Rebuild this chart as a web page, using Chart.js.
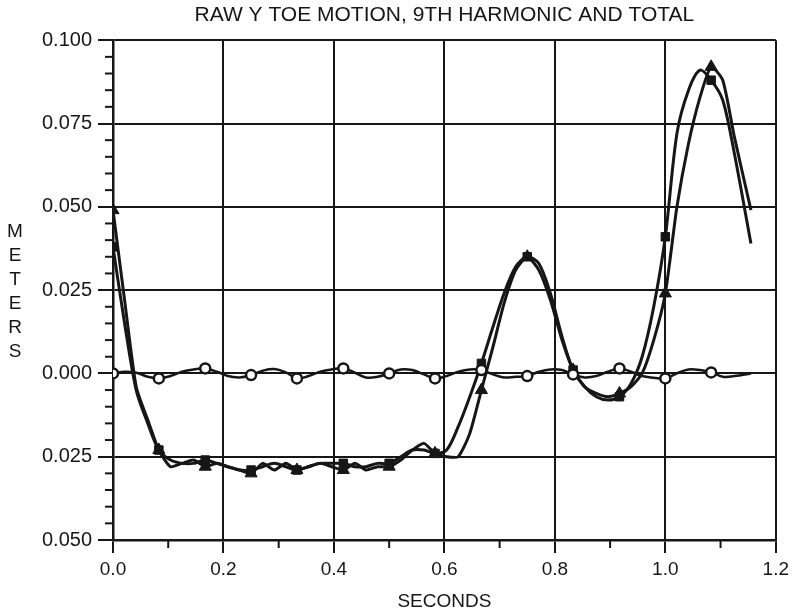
<!DOCTYPE html>
<html>
<head>
<meta charset="utf-8">
<script src="https://cdn.jsdelivr.net/npm/chart.js@4.4.1/dist/chart.umd.min.js"></script>
<style>
  html, body { margin: 0; padding: 0; background: #fff; }
  canvas { display: block; }
</style>
</head>
<body>
<canvas id="toe" width="794" height="613"></canvas>
<script>
// Tiempos de muestreo (s)
const times = [
  0.000, 0.021, 0.042, 0.063, 0.083, 0.104, 0.125, 0.146, 0.167, 0.188,
  0.208, 0.229, 0.250, 0.271, 0.292, 0.313, 0.333, 0.354, 0.375, 0.396,
  0.417, 0.438, 0.458, 0.479, 0.500, 0.521, 0.542, 0.563, 0.583, 0.604,
  0.625, 0.646, 0.667, 0.688, 0.708, 0.729, 0.750, 0.771, 0.792, 0.813,
  0.833, 0.854, 0.875, 0.896, 0.917, 0.938, 0.958, 0.979, 1.000, 1.021,
  1.042, 1.063, 1.083, 1.104, 1.125, 1.155
];

// Movimiento Y del dedo, datos crudos (triángulos)
const rawY = [
  0.049, 0.022, -0.004, -0.014, -0.023, -0.028, -0.027, -0.026, -0.028, -0.027,
  -0.028, -0.029, -0.030, -0.027, -0.029, -0.027, -0.029, -0.028, -0.027, -0.028,
  -0.029, -0.027, -0.029, -0.028, -0.028, -0.026, -0.023, -0.021, -0.024, -0.025,
  -0.025, -0.018, -0.005, 0.008, 0.021, 0.031, 0.035, 0.031, 0.022, 0.010,
  0.001, -0.004, -0.006, -0.007, -0.006, -0.004, 0.000, 0.010, 0.024, 0.050,
  0.069, 0.083, 0.092, 0.088, 0.071, 0.049
];

// Suma total de armónicos (cuadrados)
const totalY = [
  0.038, 0.015, -0.005, -0.015, -0.023, -0.026, -0.027, -0.027, -0.026, -0.027,
  -0.028, -0.029, -0.029, -0.028, -0.027, -0.028, -0.029, -0.028, -0.027, -0.027,
  -0.027, -0.028, -0.028, -0.027, -0.027, -0.025, -0.023, -0.023, -0.024, -0.023,
  -0.016, -0.007, 0.003, 0.014, 0.024, 0.032, 0.035, 0.033, 0.024, 0.011,
  0.001, -0.004, -0.007, -0.008, -0.007, -0.003, 0.005, 0.020, 0.041, 0.072,
  0.085, 0.091, 0.088, 0.082, 0.066, 0.039
];

// 9no armónico (círculos)
const harm9Y = [
  0.0000, 0.0005, 0.0002, -0.0010, -0.0015, -0.0008, 0.0005, 0.0012, 0.0015, 0.0005,
  -0.0008, -0.0012, -0.0005, 0.0008, 0.0013, 0.0003, -0.0015, -0.0008, 0.0005, 0.0012,
  0.0015, 0.0002, -0.0012, -0.0010, 0.0000, 0.0012, 0.0010, -0.0003, -0.0015, -0.0008,
  0.0005, 0.0012, 0.0010, -0.0003, -0.0012, -0.0010, -0.0008, 0.0005, 0.0012, 0.0010,
  -0.0003, -0.0012, -0.0008, 0.0005, 0.0015, 0.0005, -0.0008, -0.0013, -0.0015, 0.0000,
  0.0012, 0.0010, 0.0003, -0.0010, -0.0008, 0.0000
];

const xTicks = [0.0, 0.2, 0.4, 0.6, 0.8, 1.0, 1.2];
const yTicks = [-0.050, -0.025, 0.000, 0.025, 0.050, 0.075, 0.100];
const yAxisLetters = ['M', 'E', 'T', 'E', 'R', 'S'];

const FONT = "'Liberation Sans', Arial, sans-serif";
const INK = '#161616';
const MARK_EVERY = 4;

const toXY = ys => ys.map((y, i) => ({ x: times[i], y }));
const markRadius = r => times.map((_, i) => (i % MARK_EVERY === 0 ? r : 0));

// ticks menores y etiqueta vertical
const decoPlugin = {
  id: 'deco',
  afterDraw(chart) {
    const { ctx, chartArea, scales } = chart;
    ctx.save();
    ctx.strokeStyle = INK;
    ctx.lineWidth = 2;
    for (let k = 0; k < yTicks.length - 1; k++) {
      for (let m = 1; m < 5; m++) {
        const v = yTicks[k] + (yTicks[k + 1] - yTicks[k]) * m / 5;
        const py = scales.y.getPixelForValue(v);
        ctx.beginPath();
        ctx.moveTo(chartArea.left - 8, py);
        ctx.lineTo(chartArea.left, py);
        ctx.stroke();
      }
    }
    for (let k = 0; k < xTicks.length - 1; k++) {
      const px = scales.x.getPixelForValue((xTicks[k] + xTicks[k + 1]) / 2);
      ctx.beginPath();
      ctx.moveTo(px, chartArea.bottom);
      ctx.lineTo(px, chartArea.bottom + 8);
      ctx.stroke();
    }
    ctx.fillStyle = INK;
    ctx.font = '19px ' + FONT;
    ctx.textAlign = 'center';
    ctx.textBaseline = 'middle';
    const mid = (chartArea.top + chartArea.bottom) / 2 + 2;
    yAxisLetters.forEach((ch, i) => {
      ctx.fillText(ch, 15, mid + (i - 2.5) * 24);
    });
    ctx.restore();
  }
};

const gridOpts = {
  color: INK,
  lineWidth: 2,
  tickColor: INK,
  tickWidth: 2
};

new Chart(document.getElementById('toe').getContext('2d'), {
  type: 'line',
  data: {
    datasets: [
      { label: 'Raw', data: toXY(rawY), borderColor: INK, borderWidth: 3,
        pointStyle: 'triangle', pointRadius: markRadius(7), pointBackgroundColor: INK,
        pointBorderColor: INK, pointBorderWidth: 1, tension: 0.2, order: 2 },
      { label: 'Total', data: toXY(totalY), borderColor: INK, borderWidth: 3,
        pointStyle: 'rect', pointRadius: markRadius(6), pointBackgroundColor: INK,
        pointBorderColor: INK, pointBorderWidth: 1, tension: 0.3, order: 1 },
      { label: '9th', data: toXY(harm9Y), borderColor: INK, borderWidth: 2.5,
        pointStyle: 'circle', pointRadius: markRadius(5), pointBackgroundColor: '#fff',
        pointBorderColor: INK, pointBorderWidth: 2.5, tension: 0.4, order: 0 }
    ]
  },
  options: {
    responsive: false,
    animation: false,
    devicePixelRatio: 1,
    layout: { padding: { top: 0, right: 17, bottom: 0, left: 0 } },
    plugins: {
      legend: { display: false },
      tooltip: { enabled: false },
      title: {
        display: true,
        fullSize: false,
        text: 'RAW Y TOE MOTION, 9TH HARMONIC AND TOTAL',
        color: INK,
        font: { family: FONT, size: 21, weight: 'normal', lineHeight: 1.2 },
        padding: { top: 3, bottom: 12 }
      }
    },
    scales: {
      x: {
        type: 'linear', min: 0, max: 1.2,
        afterFit: s => { s.height = 73; },
        afterBuildTicks: s => { s.ticks = xTicks.map(v => ({ value: v })); },
        grid: { ...gridOpts, tickLength: 13 },
        border: { color: INK, width: 2.5 },
        ticks: { color: INK, font: { family: FONT, size: 19 }, padding: 5,
                 maxRotation: 0, callback: v => Number(v).toFixed(1) },
        title: { display: true, text: 'SECONDS', color: INK,
                 font: { family: FONT, size: 19 }, padding: { top: 0, bottom: 0 } }
      },
      y: {
        type: 'linear', min: -0.05, max: 0.1,
        afterFit: s => { s.width = 113; },
        afterBuildTicks: s => { s.ticks = yTicks.map(v => ({ value: v })); },
        grid: { ...gridOpts, tickLength: 15 },
        border: { color: INK, width: 2.5 },
        ticks: { color: INK, font: { family: FONT, size: 20 }, padding: 6,
                 callback: v => Math.abs(v).toFixed(3) }
      }
    }
  },
  plugins: [decoPlugin]
});
</script>
</body>
</html>
